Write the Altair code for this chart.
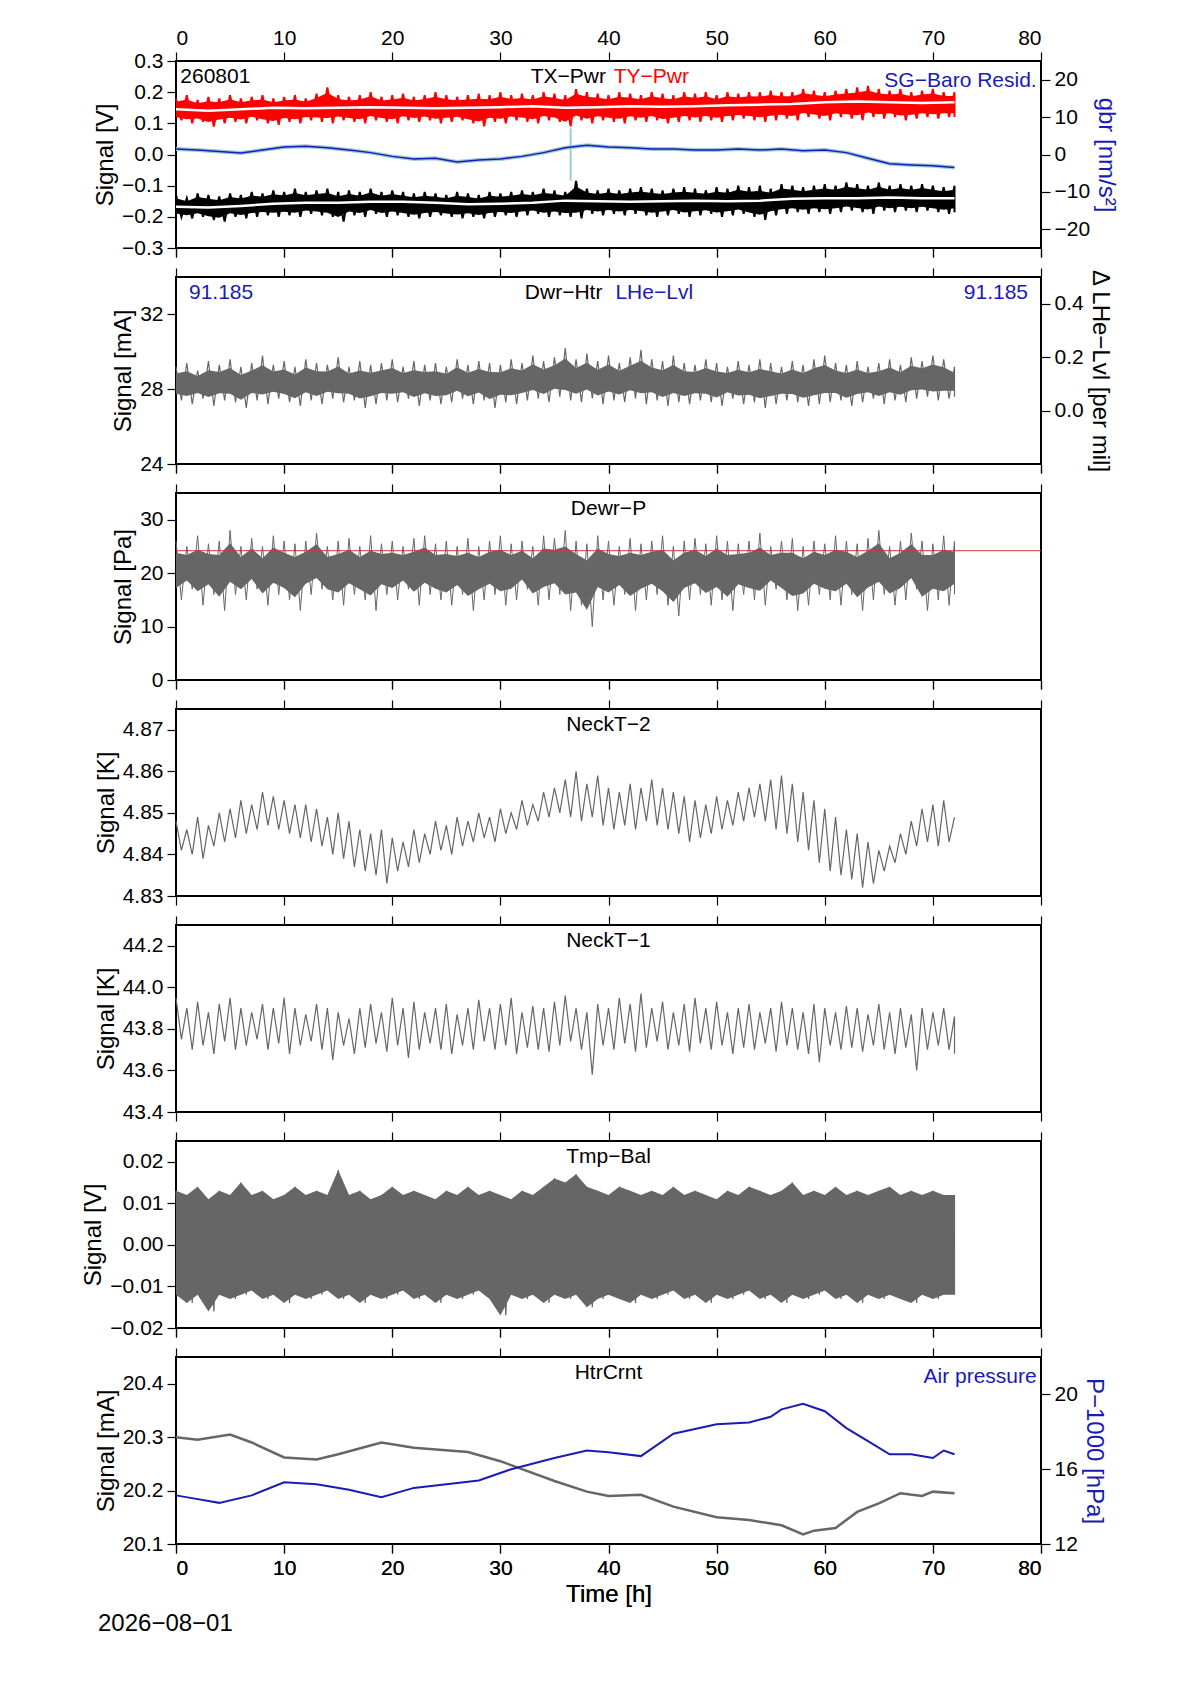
import altair as alt
import numpy as np
import pandas as pd

# ---- panel 1: TX / TY power and SG-Baro residual
red_mid = [0.145, 0.14, 0.145, 0.15, 0.148, 0.15, 0.152, 0.15, 0.148, 0.15, 0.152, 0.155, 0.15,
           0.152, 0.155, 0.153, 0.155, 0.158, 0.16, 0.162, 0.168, 0.17, 0.168, 0.165, 0.168]
red_hi = [0.18, 0.19, 0.175, 0.185, 0.18, 0.19, 0.18, 0.185, 0.19, 0.18, 0.185, 0.19, 0.18, 0.195, 0.215,
          0.19, 0.185, 0.19, 0.2, 0.185, 0.19, 0.195, 0.185, 0.19, 0.2, 0.19, 0.185, 0.19, 0.195, 0.19,
          0.2, 0.19, 0.195, 0.19, 0.2, 0.195, 0.19, 0.21, 0.2, 0.195, 0.19, 0.2, 0.195, 0.19, 0.2, 0.195,
          0.19, 0.2, 0.195, 0.2, 0.19, 0.2, 0.195, 0.2, 0.2, 0.205, 0.2, 0.2, 0.21, 0.205, 0.2, 0.205,
          0.21, 0.215, 0.22, 0.21, 0.205, 0.21, 0.2, 0.205, 0.21, 0.2, 0.2]
red_lo = [0.11, 0.1, 0.105, 0.09, 0.1, 0.105, 0.1, 0.11, 0.1, 0.095, 0.105, 0.1, 0.11, 0.105, 0.1, 0.11,
          0.105, 0.1, 0.11, 0.105, 0.1, 0.11, 0.105, 0.11, 0.1, 0.105, 0.11, 0.1, 0.09, 0.105, 0.1, 0.11,
          0.105, 0.1, 0.11, 0.105, 0.09, 0.11, 0.1, 0.11, 0.105, 0.1, 0.11, 0.105, 0.11, 0.1, 0.105, 0.11,
          0.105, 0.11, 0.105, 0.11, 0.115, 0.11, 0.105, 0.11, 0.115, 0.11, 0.12, 0.115, 0.11, 0.12, 0.115,
          0.11, 0.12, 0.115, 0.12, 0.11, 0.115, 0.12, 0.115, 0.12, 0.12]
blk_mid = [-0.168, -0.17, -0.165, -0.158, -0.155, -0.155, -0.152, -0.152, -0.155, -0.16, -0.158, -0.155,
           -0.148, -0.15, -0.152, -0.15, -0.148, -0.15, -0.148, -0.142, -0.14, -0.14, -0.138, -0.14, -0.14]
blk_hi = [-0.13, -0.14, -0.125, -0.13, -0.135, -0.125, -0.13, -0.12, -0.125, -0.115, -0.12, -0.11, -0.12,
          -0.115, -0.11, -0.12, -0.115, -0.12, -0.11, -0.12, -0.115, -0.12, -0.125, -0.12, -0.125, -0.13,
          -0.12, -0.125, -0.13, -0.12, -0.125, -0.12, -0.115, -0.12, -0.11, -0.115, -0.12, -0.085, -0.11,
          -0.115, -0.11, -0.115, -0.11, -0.105, -0.11, -0.115, -0.11, -0.105, -0.11, -0.115, -0.105, -0.11,
          -0.1, -0.105, -0.1, -0.11, -0.095, -0.1, -0.105, -0.1, -0.095, -0.1, -0.09, -0.095, -0.1, -0.09,
          -0.1, -0.095, -0.1, -0.095, -0.1, -0.105, -0.1]
blk_lo = [-0.2, -0.205, -0.2, -0.21, -0.215, -0.2, -0.205, -0.2, -0.195, -0.2, -0.195, -0.2, -0.19, -0.195,
          -0.2, -0.215, -0.195, -0.2, -0.19, -0.2, -0.195, -0.2, -0.205, -0.2, -0.195, -0.2, -0.205, -0.2,
          -0.205, -0.2, -0.195, -0.2, -0.195, -0.19, -0.2, -0.195, -0.2, -0.205, -0.19, -0.195, -0.19,
          -0.195, -0.19, -0.195, -0.2, -0.195, -0.19, -0.2, -0.195, -0.19, -0.2, -0.195, -0.19, -0.2, -0.21,
          -0.195, -0.19, -0.185, -0.19, -0.185, -0.19, -0.185, -0.18, -0.185, -0.19, -0.18, -0.185, -0.18,
          -0.185, -0.18, -0.185, -0.19, -0.185]
resid = [1.5, 1.2, 0.8, 0.4, 1.2, 2.0, 2.2, 1.8, 1.2, 0.5, -0.5, -1.2, -1.0, -2.0, -1.5, -1.2, -0.5, 0.5,
         1.8, 2.5, 2.0, 1.8, 1.5, 1.5, 1.2, 1.2, 1.5, 1.2, 1.5, 1.0, 1.2, 0.5, -1.0, -2.5, -2.8, -3.0, -3.5]
resid_spike_t = [36.5, 36.5]
resid_spike_v = [-7, 7]

# ---- panel 2: Dwr-Htr
dh_hi = [29.2, 29.4, 29.0, 29.5, 29.3, 29.6, 29.2, 29.4, 29.8, 29.3, 29.5, 29.2, 29.6, 29.4, 29.3, 29.7,
         29.2, 29.5, 29.3, 29.4, 29.6, 29.2, 29.5, 29.3, 29.4, 29.2, 29.6, 29.3, 29.5, 29.4, 29.3, 29.6,
         29.4, 29.8, 29.5, 29.7, 30.2, 29.6, 29.9, 29.5, 29.8, 29.4, 29.7, 30.1, 29.6, 29.5, 29.8, 29.4,
         29.3, 29.6, 29.4, 29.2, 29.5, 29.3, 29.6, 29.4, 29.2, 29.5, 29.3, 29.6, 29.8, 29.4, 29.3, 29.5,
         29.2, 29.4, 29.6, 29.3, 29.7, 29.5, 29.8, 29.6, 29.2]
dh_lo = [27.4, 27.2, 27.5, 27.1, 27.4, 27.3, 27.0, 27.4, 27.2, 27.5, 27.3, 27.1, 27.4, 27.2, 27.5, 27.3,
         27.4, 27.0, 27.2, 27.4, 27.3, 27.5, 27.1, 27.4, 27.2, 27.3, 27.5, 27.2, 27.4, 27.0, 27.3, 27.2,
         27.4, 27.5, 27.3, 27.6, 27.4, 27.3, 27.5, 27.2, 27.4, 27.3, 27.5, 27.2, 27.4, 27.1, 27.3, 27.2,
         27.4, 27.3, 27.1, 27.5, 27.2, 27.3, 27.0, 27.2, 27.4, 27.3, 27.1, 27.2, 27.3, 27.4, 27.1, 27.3,
         27.5, 27.2, 27.4, 27.3, 27.5, 27.6, 27.4, 27.5, 27.6]

# ---- panel 3: Dewr-P
dp_hi = [26, 25, 27, 25.5, 26, 28, 25, 26.5, 25, 27, 26, 25.5, 26, 27.5, 25, 26, 26.5, 25, 27, 25.5, 26, 25,
         26.5, 27, 25.5, 26, 25, 26.5, 25, 26, 27, 25.5, 26, 25, 27, 26.5, 28, 26, 25.5, 27, 26, 25, 26.5,
         25.5, 26, 27, 25, 26, 26.5, 25.5, 27, 26, 25.5, 26, 27.5, 25, 26, 26.5, 25, 26, 25.5, 27, 26, 25.5,
         26.5, 28, 25, 26, 27.5, 26, 25.5, 27, 26]
dp_lo = [15, 17, 14, 16, 13, 16, 15, 17, 14, 16, 15, 13, 16, 17, 15, 14, 16, 15, 13, 16, 15, 17, 14, 16, 15,
         14, 16, 13, 15, 16, 14, 15, 17, 14, 15, 16, 13, 14, 10, 15, 14, 16, 13, 15, 16, 14, 12, 15, 16, 14,
         15, 13, 16, 15, 14, 17, 15, 13, 14, 16, 15, 14, 16, 13, 15, 16, 14, 15, 17, 13, 15, 14, 16]
dp_ref = 24.2

# ---- panel 4: NeckT-2
nt2_hi = [4.848, 4.846, 4.849, 4.847, 4.85, 4.851, 4.853, 4.852, 4.855, 4.854, 4.853, 4.852, 4.852, 4.851,
          4.849, 4.85, 4.848, 4.846, 4.845, 4.846, 4.844, 4.843, 4.846, 4.845, 4.848, 4.847, 4.849, 4.848,
          4.85, 4.849, 4.851, 4.85, 4.853, 4.852, 4.855, 4.856, 4.858, 4.86, 4.857, 4.859, 4.856, 4.855,
          4.857, 4.856, 4.858, 4.856, 4.855, 4.854, 4.853, 4.852, 4.854, 4.853, 4.855, 4.856, 4.857, 4.858,
          4.859, 4.857, 4.855, 4.853, 4.851, 4.849, 4.846, 4.845, 4.843, 4.841, 4.842, 4.845, 4.848, 4.851,
          4.852, 4.853, 4.849]
nt2_lo = [4.841, 4.84, 4.839, 4.842, 4.843, 4.844, 4.845, 4.846, 4.847, 4.846, 4.845, 4.844, 4.843, 4.842,
          4.84, 4.839, 4.837, 4.836, 4.835, 4.833, 4.836, 4.837, 4.838, 4.84, 4.841, 4.84, 4.842, 4.843,
          4.844, 4.843, 4.845, 4.846, 4.847, 4.848, 4.849, 4.85, 4.849, 4.848, 4.849, 4.847, 4.846, 4.847,
          4.846, 4.848, 4.847, 4.846, 4.845, 4.843, 4.844, 4.845, 4.846, 4.847, 4.848, 4.849, 4.848, 4.846,
          4.845, 4.843, 4.841, 4.838, 4.836, 4.835, 4.834, 4.832, 4.833, 4.836, 4.838, 4.84, 4.842, 4.843,
          4.842, 4.843]

# ---- panel 5: NeckT-1
nt1_hi = [43.95, 43.9, 43.93, 43.88, 43.92, 43.95, 43.9, 43.88, 43.92, 43.9, 43.95, 43.9, 43.87, 43.92,
          43.9, 43.88, 43.85, 43.9, 43.92, 43.88, 43.95, 43.9, 43.93, 43.88, 43.9, 43.92, 43.87, 43.9, 43.94,
          43.9, 43.92, 43.95, 43.88, 43.91, 43.9, 43.93, 43.96, 43.9, 43.88, 43.92, 43.9, 43.95, 43.92, 43.97,
          43.9, 43.93, 43.88, 43.92, 43.95, 43.9, 43.93, 43.88, 43.9, 43.92, 43.88, 43.9, 43.93, 43.9, 43.88,
          43.92, 43.9, 43.88, 43.91, 43.9, 43.87, 43.92, 43.88, 43.9, 43.87, 43.9, 43.88, 43.9, 43.86]
nt1_lo = [43.75, 43.7, 43.72, 43.68, 43.74, 43.7, 43.72, 43.75, 43.7, 43.73, 43.68, 43.72, 43.74, 43.7,
          43.65, 43.72, 43.68, 43.71, 43.73, 43.69, 43.72, 43.66, 43.7, 43.73, 43.7, 43.68, 43.72, 43.7,
          43.74, 43.7, 43.72, 43.68, 43.71, 43.7, 43.69, 43.72, 43.74, 43.7, 43.58, 43.72, 43.7, 43.73, 43.69,
          43.71, 43.74, 43.7, 43.72, 43.69, 43.73, 43.7, 43.72, 43.68, 43.71, 43.7, 43.73, 43.69, 43.72, 43.7,
          43.68, 43.64, 43.72, 43.7, 43.71, 43.69, 43.72, 43.7, 43.68, 43.71, 43.6, 43.7, 43.72, 43.7, 43.68]

# ---- panel 6: Tmp-Bal
tb_hi = [0.013, 0.012, 0.014, 0.011, 0.013, 0.012, 0.015, 0.012, 0.013, 0.011, 0.012, 0.014, 0.012, 0.013,
         0.012, 0.018, 0.012, 0.013, 0.011, 0.012, 0.014, 0.012, 0.013, 0.012, 0.011, 0.013, 0.012, 0.014,
         0.012, 0.013, 0.012, 0.011, 0.013, 0.012, 0.014, 0.016, 0.015, 0.017, 0.014, 0.013, 0.012, 0.014,
         0.013, 0.012, 0.013, 0.012, 0.014, 0.012, 0.013, 0.012, 0.011, 0.013, 0.012, 0.014, 0.013, 0.012,
         0.013, 0.015, 0.012, 0.013, 0.012, 0.014, 0.012, 0.013, 0.012, 0.013, 0.014, 0.012, 0.013, 0.012,
         0.013, 0.012, 0.012]
tb_lo = [-0.012, -0.014, -0.012, -0.016, -0.012, -0.013, -0.012, -0.011, -0.013, -0.012, -0.014, -0.012,
         -0.013, -0.012, -0.011, -0.013, -0.012, -0.014, -0.012, -0.013, -0.012, -0.011, -0.013, -0.012,
         -0.014, -0.012, -0.013, -0.012, -0.011, -0.013, -0.017, -0.012, -0.013, -0.012, -0.014, -0.012,
         -0.013, -0.012, -0.015, -0.013, -0.012, -0.013, -0.014, -0.012, -0.013, -0.012, -0.011, -0.013,
         -0.012, -0.014, -0.012, -0.013, -0.012, -0.011, -0.013, -0.012, -0.014, -0.012, -0.013, -0.012,
         -0.011, -0.013, -0.012, -0.014, -0.012, -0.013, -0.012, -0.013, -0.014, -0.012, -0.013, -0.012, -0.012]

# ---- panel 7: HtrCrnt and air pressure
htr_t = [0, 2, 5, 7, 10, 13, 15, 19, 22, 27, 30, 32, 35, 38, 40, 43, 46, 50, 53, 56, 58, 59, 61, 63, 65,
         67, 69, 70, 72]
htr_v = [20.30, 20.295, 20.305, 20.29, 20.262, 20.258, 20.268, 20.29, 20.28, 20.272, 20.255, 20.24, 20.218,
         20.198, 20.19, 20.192, 20.17, 20.15, 20.145, 20.135, 20.118, 20.125, 20.13, 20.16, 20.176, 20.195,
         20.19, 20.198, 20.195]
air_t = [0, 2, 4, 7, 10, 13, 16, 19, 22, 25, 28, 31, 35, 38, 40, 43, 46, 50, 53, 55, 56, 58, 60, 62, 64,
         66, 68, 70, 71, 72]
air_v = [14.6, 14.4, 14.2, 14.6, 15.3, 15.2, 14.9, 14.5, 15.0, 15.2, 15.4, 16.0, 16.6, 17.0, 16.9, 16.7,
         17.9, 18.4, 18.5, 18.8, 19.2, 19.5, 19.1, 18.2, 17.5, 16.8, 16.8, 16.6, 17.0, 16.8]

GRAY = "#666666"
BLUE = "#1a1ab4"
W, H = 865, 187
X = alt.Scale(domain=[0, 80], nice=False)
FONT = "Liberation Sans"


def zigzag(hi, lo):
    t = np.linspace(0, 72, len(hi))
    dt = t[1] - t[0]
    rows = []
    for i in range(len(hi)):
        rows.append({"t": t[i], "v": hi[i], "o": 2 * i})
        if i < len(lo):
            rows.append({"t": min(t[i] + dt / 2, 72), "v": lo[i], "o": 2 * i + 1})
    return pd.DataFrame(rows)


def core(hi, lo, k=0.7):
    # inner band of the noise, drawn solid under the zigzag
    n = min(len(hi), len(lo))
    h = np.array(hi[:n])
    l = np.array(lo[:n])
    return pd.DataFrame({"t": np.linspace(0, 72, n), "v": k * h + (1 - k) * l, "v2": (1 - k) * h + k * l})


def series(t, v):
    return pd.DataFrame({"t": t, "v": v})


def xenc(bottom):
    return alt.X("t:Q", scale=X, title="Time [h]" if bottom else None,
                 axis=alt.Axis(values=list(range(0, 81, 10)), labels=bottom, orient="bottom"))


def yenc(dom, title, vals, fmt):
    return alt.Y("v:Q", scale=alt.Scale(domain=dom, nice=False, zero=False), title=title,
                 axis=alt.Axis(values=vals, format=fmt, orient="left"))


def line(df, dom, title, vals, fmt, color, bottom, width=1.2):
    return alt.Chart(df).mark_line(color=color, strokeWidth=width).encode(
        x=xenc(bottom), y=yenc(dom, title, vals, fmt), order="o:Q" if "o" in df else alt.Undefined)


def band(df, dom, title, vals, fmt, color):
    return alt.Chart(df).mark_area(color=color, opacity=1).encode(
        x=xenc(False), y=yenc(dom, title, vals, fmt), y2="v2:Q")


def noisy(hi, lo, dom, title, vals, fmt, color, width=1.2, k=0.7):
    return alt.layer(band(core(hi, lo, k), dom, title, vals, fmt, color),
                     line(zigzag(hi, lo), dom, title, vals, fmt, color, False, width))


def top_axis(top):
    return alt.Chart(pd.DataFrame({"t": [0]})).mark_point(opacity=0).encode(
        x=alt.X("t:Q", scale=X, title=None,
                axis=alt.Axis(values=list(range(0, 81, 10)), labels=top, orient="top")),
        y=alt.value(0))


def label(text, frac, align="center", color="black", dy=16):
    return alt.Chart(pd.DataFrame({"a": [0]})).mark_text(
        text=text, align=align, color=color, fontSize=21, font=FONT, baseline="middle").encode(
        x=alt.value(W * frac), y=alt.value(dy))


def right_axis(layer, dom, title, vals, color, fmt="d"):
    return layer.encode(y=alt.Y("v:Q", scale=alt.Scale(domain=dom, nice=False, zero=False),
                                title=title, axis=alt.Axis(values=vals, orient="right",
                                                           titleColor=color, format=fmt)))


# panel 1
d1 = [0.3, 0.2, 0.1, 0.0, -0.1, -0.2, -0.3]
dom1 = [-0.3, 0.3]
p1_left = alt.layer(
    noisy(red_hi, red_lo, dom1, "Signal [V]", d1, ".1f", "red", 2, 0.85),
    line(series(np.linspace(0, 72, len(red_mid)), red_mid), dom1, "Signal [V]", d1, ".1f", "white", False, 2.5),
    noisy(blk_hi, blk_lo, dom1, "Signal [V]", d1, ".1f", "black", 2, 0.85),
    line(series(np.linspace(0, 72, len(blk_mid)), blk_mid), dom1, "Signal [V]", d1, ".1f", "white", False, 2.5),
)
rv = [-20, -10, 0, 10, 20]
p1_right = alt.layer(
    right_axis(alt.Chart(series(resid_spike_t, resid_spike_v)).mark_line(color="#9ccbd6", strokeWidth=2).encode(x=xenc(False)),
               [-25, 25], "gbr [nm/s²]", rv, BLUE),
    right_axis(alt.Chart(series(np.linspace(0, 72, len(resid)), resid)).mark_line(color="#9ccbd6", strokeWidth=4).encode(x=xenc(False)),
               [-25, 25], "gbr [nm/s²]", rv, BLUE),
    right_axis(alt.Chart(series(np.linspace(0, 72, len(resid)), resid)).mark_line(color=BLUE, strokeWidth=1.5).encode(x=xenc(False)),
               [-25, 25], "gbr [nm/s²]", rv, BLUE),
)
p1 = alt.layer(p1_left, p1_right, top_axis(True),
               label("260801", 0.005, "left"), label("TX−Pwr", 0.497, "right"),
               label("TY−Pwr", 0.506, "left", "red"),
               label("SG−Baro Resid.", 0.995, "right", BLUE, 20)).resolve_scale(y="independent")

# panel 2
p2 = alt.layer(
    alt.layer(noisy(dh_hi, dh_lo, [24, 34], "Signal [mA]", [24, 28, 32], "d", GRAY, 1.2, 0.8)),
    right_axis(alt.Chart(series([0], [0])).mark_point(opacity=0).encode(x=xenc(False)),
               [-0.2, 0.5], "Δ LHe−Lvl [per mil]", [0.0, 0.2, 0.4], "black", ".1f"),
    top_axis(False),
    label("91.185", 0.015, "left", BLUE), label("91.185", 0.985, "right", BLUE),
    label("Dwr−Htr", 0.493, "right"), label("LHe−Lvl", 0.508, "left", BLUE),
).resolve_scale(y="independent")

# panel 3
p3 = alt.layer(
    noisy(dp_hi, dp_lo, [0, 35], "Signal [Pa]", [0, 10, 20, 30], "d", GRAY, 1, 0.8),
    alt.Chart(pd.DataFrame({"t": [0, 80], "v": [dp_ref, dp_ref]})).mark_line(color="#e03030", strokeWidth=1).encode(
        x=xenc(False), y=yenc([0, 35], "Signal [Pa]", [0, 10, 20, 30], "d")),
    top_axis(False), label("Dewr−P", 0.5),
)

# panel 4
p4 = alt.layer(
    line(zigzag(nt2_hi, nt2_lo), [4.83, 4.875], "Signal [K]", [4.83, 4.84, 4.85, 4.86, 4.87], ".2f", GRAY, False),
    top_axis(False), label("NeckT−2", 0.5),
)

# panel 5
p5 = alt.layer(
    line(zigzag(nt1_hi, nt1_lo), [43.4, 44.3], "Signal [K]", [43.4, 43.6, 43.8, 44.0, 44.2], ".1f", GRAY, False),
    top_axis(False), label("NeckT−1", 0.5),
)

# panel 6
p6 = alt.layer(
    band(core(tb_hi, tb_lo).assign(v=tb_hi, v2=tb_lo), [-0.02, 0.025], "Signal [V]",
         [-0.02, -0.01, 0.0, 0.01, 0.02], ".2f", GRAY),
    line(zigzag(tb_hi, tb_lo), [-0.02, 0.025], "Signal [V]", [-0.02, -0.01, 0.0, 0.01, 0.02], ".2f", GRAY, False),
    top_axis(False), label("Tmp−Bal", 0.5),
)

# panel 7
p7 = alt.layer(
    alt.layer(line(series(htr_t, htr_v), [20.1, 20.45], "Signal [mA]", [20.1, 20.2, 20.3, 20.4], ".1f", GRAY, True, 2.5)),
    right_axis(alt.Chart(series(air_t, air_v)).mark_line(color=BLUE, strokeWidth=2).encode(x=xenc(True)),
               [12, 22], "P−1000 [hPa]", [12, 16, 20], BLUE),
    top_axis(False), label("HtrCrnt", 0.5), label("Air pressure", 0.995, "right", BLUE, 20),
    alt.Chart(pd.DataFrame({"a": [0]})).mark_text(text="2026−08−01", align="left", fontSize=24, font=FONT).encode(
        x=alt.value(-78), y=alt.value(H + 80)),
).resolve_scale(y="independent")

panels = [p.properties(width=W, height=H) for p in [p1, p2, p3, p4, p5, p6, p7]]
chart = alt.vconcat(*panels, spacing=7, background="white",
                    padding={"left": 72, "top": 18, "right": 5, "bottom": 5}).configure_view(
    stroke="black", strokeWidth=2
).configure_axis(
    grid=False, domain=False, tickColor="black", tickSize=9, tickWidth=1.2,
    labelFont=FONT, titleFont=FONT, labelFontSize=21, titleFontSize=24,
    labelColor="black", titleColor="black", titleFontWeight="normal", labelPadding=4,
)

chart.save("out.html", embed_options={"renderer": "svg", "actions": False})
